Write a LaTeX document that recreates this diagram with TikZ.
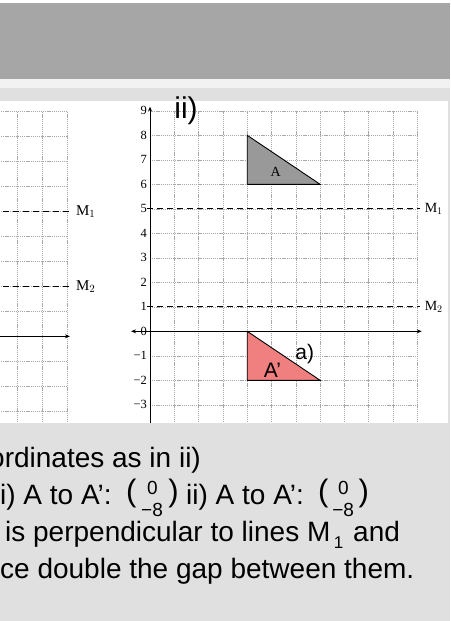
\documentclass[tikz,border=0pt]{standalone}
\usepackage{fontspec}
\setmainfont{Liberation Sans}
\newfontfamily\serf{Liberation Serif}
\usetikzlibrary{arrows.meta}
\definecolor{band}{HTML}{A6A6A6}
\definecolor{pale}{HTML}{E0E0E0}
\definecolor{strip}{HTML}{F2F2F2}
\definecolor{trigrey}{HTML}{999999}
\definecolor{coral}{HTML}{F08080}
\definecolor{gridgrey}{HTML}{A8A8A8}
\begin{document}
\begin{tikzpicture}[x=1pt,y=-1pt,
 gridline/.style={gridgrey, line width=0.5pt, dash pattern=on 1.2pt off 0.9pt},
 mline/.style={line width=1.1pt, dash pattern=on 6pt off 4pt},
 axisline/.style={line width=0.8pt},
 tip/.style={-{Stealth[length=5pt,width=4pt]}},
 ticklab/.style={font=\serf\fontsize{12.5}{13}\selectfont, anchor=east, inner sep=0pt},
 mlab/.style={font=\serf\fontsize{14}{15}\selectfont, anchor=west, inner sep=0pt},
 triangle/.style={line width=0.9pt, draw=black},
 body/.style={font=\fontsize{28}{30}\selectfont, anchor=base west, inner sep=0pt},
 paren/.style={font=\fontsize{31}{31}\selectfont, anchor=base west, inner sep=0pt},
 entry/.style={font=\fontsize{19}{19}\selectfont, anchor=base, inner sep=0pt},
]
\useasboundingbox (0,0) rectangle (450,621);
\clip (0,0) rectangle (450,621);
\fill[white] (0,0) rectangle (450,621);
\fill[band] (0,2.7) rectangle (450,79);
\fill[strip] (0,79) rectangle (450,87.7);
\fill[pale] (0,87.7) rectangle (450,621);
\fill[white] (0,100.7) rectangle (447.7,422.7);

\begin{scope}
\clip (0,100.7) rectangle (447.7,422.7);
% left panel
\begin{scope}[shift={(67.7,336.3)}, x=25pt, y=25pt]
  \foreach \i in {-3,...,0} \draw[gridline] (\i,-3.6) -- (\i,9);
  \foreach \j in {-3,...,9} \draw[gridline] (-3,\j) -- (0,\j);
  \coordinate (lm1s) at (-3,5); \coordinate (lm1e) at (0.2,5);
  \coordinate (lm2s) at (-3,2); \coordinate (lm2e) at (0.2,2);
  \coordinate (lxs) at (-3,0); \coordinate (lxe) at (0.09,0);
  \draw[mline] (lm1s) -- (lm1e);
  \draw[mline] (lm2s) -- (lm2e);
  \draw[axisline,tip] (lxs) -- (lxe);
  \node[mlab, font=\serf\fontsize{15}{16}\selectfont] (lM1) at (0.33,5) {M$_1$};
  \node[mlab, font=\serf\fontsize{15}{16}\selectfont] (lM2) at (0.33,2) {M$_2$};
\end{scope}
% right panel
\begin{scope}[shift={(150,331.3)}, x=24.3pt, y=24.5pt]
  \foreach \i in {0,...,11} \draw[gridline] (\i,-3.8) -- (\i,9);
  \foreach \j in {-3,...,9} \draw[gridline] (0,\j) -- (11,\j);
  \filldraw[triangle, fill=trigrey] (4,8) -- (4,6) -- (7,6) -- cycle;
  \filldraw[triangle, fill=coral] (4,0) -- (4,-2) -- (7,-2) -- cycle;
  \coordinate (m1s) at (-0.12,5); \coordinate (m1e) at (11.1,5);
  \coordinate (m2s) at (-0.12,1); \coordinate (m2e) at (11.1,1);
  \draw[mline] (m1s) -- (m1e);
  \draw[mline] (m2s) -- (m2e);
  \coordinate (ys) at (0,-3.8); \coordinate (ye) at (0,9.17);
  \coordinate (xs) at (-0.78,0); \coordinate (xe) at (11.18,0);
  \draw[axisline,tip] (ys) -- (ye);
  \draw[axisline,{Stealth[length=5pt,width=4pt]}-{Stealth[length=5pt,width=4pt]}] (xs) -- (xe);
  \foreach \j/\t in {9/9,8/8,7/7,6/6,5/5,4/4,3/3,2/2,1/1,0/0,-1/−1,-2/−2,-3/−3}
    \node[ticklab] (t\j) at (-0.12,\j) {\t};
  \node[mlab] (M1) at (11.3,5) {M$_1$};
  \node[mlab] (M2) at (11.3,1) {M$_2$};
  \node[font=\serf\fontsize{14}{15}\selectfont, inner sep=0pt] (labA) at (5.17,6.5) {A};
  \node[font=\fontsize{21}{22}\selectfont, inner sep=0pt] (labAp) at (5.04,-1.6) {A’};
  \node[font=\fontsize{21}{22}\selectfont, inner sep=0pt] (laba) at (6.37,-0.93) {a)};
\end{scope}
\end{scope}
\node[font=\fontsize{30}{32}\selectfont, inner sep=0pt, anchor=base] (ii) at (186,118.7) {ii)};

% bottom text
\node[body] (l1) at (-11,467) {ordinates as in ii)};
\node[body] (l2a) at (0,504.5) {i) A to A’:};
\node[paren] (v1l) at (125.8,501.5) {(};
\node[entry] (v1a) at (152.3,494) {0};
\node[entry] (v1b) at (152,516.5) {−8};
\node[paren] (v1r) at (168.2,501.5) {)};
\node[body] (l2c) at (186,504.5) {ii) A to A’:};
\node[paren] (v2l) at (318,501.5) {(};
\node[entry] (v2a) at (343.5,494) {0};
\node[entry] (v2b) at (343.2,516.5) {−8};
\node[paren] (v2r) at (358.5,501.5) {)};
\node[body] (l3) at (5,541.5) {is perpendicular to lines M\kern3.5pt\raisebox{-6.5pt}{\fontsize{17}{17}\selectfont 1}\kern2pt{} and};
\node[body] (l4) at (0,578.5) {ce double the gap between them.};
\end{tikzpicture}
\end{document}
